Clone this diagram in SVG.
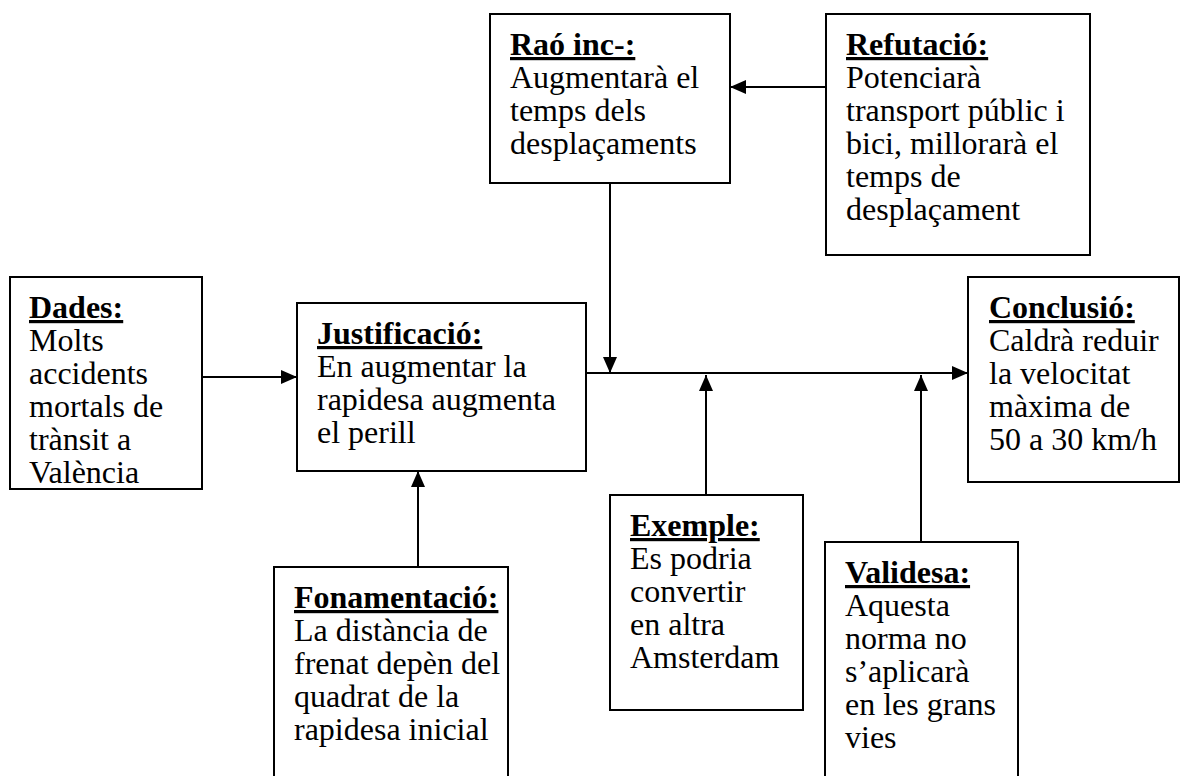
<svg xmlns="http://www.w3.org/2000/svg" width="1182" height="776" viewBox="0 0 1182 776">
  <style>
    .box { fill: #ffffff; stroke: #000000; stroke-width: 2; }
    .txt { font-family: "Liberation Serif", "Times New Roman", serif; font-size: 32px; fill: #000000; }
    .hd { font-weight: bold; text-decoration: underline; text-decoration-thickness: 3px; }
    .wire { fill: none; stroke: #000000; stroke-width: 2; }
  </style>
  <defs>
    <marker id="arrow" markerUnits="userSpaceOnUse" markerWidth="16" markerHeight="14" viewBox="0 0 16 14" refX="16" refY="7" orient="auto">
      <path d="M0,0 L16,7 L0,14 Z" fill="#000000"/>
    </marker>
  </defs>
  <rect width="1182" height="776" fill="#ffffff"/>

  <g id="connectors">
    <line class="wire" x1="202" y1="377" x2="297" y2="377" marker-end="url(#arrow)"/>
    <line class="wire" x1="586" y1="373" x2="968" y2="373" marker-end="url(#arrow)"/>
    <line class="wire" x1="610" y1="183" x2="610" y2="373" marker-end="url(#arrow)"/>
    <line class="wire" x1="826" y1="87" x2="730" y2="87" marker-end="url(#arrow)"/>
    <line class="wire" x1="418" y1="567" x2="418" y2="471" marker-end="url(#arrow)"/>
    <line class="wire" x1="706" y1="495" x2="706" y2="375" marker-end="url(#arrow)"/>
    <line class="wire" x1="921" y1="542" x2="921" y2="375" marker-end="url(#arrow)"/>
  </g>

  <g id="dades">
    <rect class="box" x="10" y="277" width="192" height="212"/>
    <text class="txt" x="29">
      <tspan class="hd" x="29" y="318">Dades:</tspan>
      <tspan x="29" y="351">Molts</tspan>
      <tspan x="29" y="384">accidents</tspan>
      <tspan x="29" y="417">mortals de</tspan>
      <tspan x="29" y="450">trànsit a</tspan>
      <tspan x="29" y="483">València</tspan>
    </text>
  </g>

  <g id="justificacio">
    <rect class="box" x="297" y="303" width="289" height="168"/>
    <text class="txt">
      <tspan class="hd" x="317" y="344">Justificació:</tspan>
      <tspan x="317" y="377">En augmentar la</tspan>
      <tspan x="317" y="410">rapidesa augmenta</tspan>
      <tspan x="317" y="443">el perill</tspan>
    </text>
  </g>

  <g id="rao">
    <rect class="box" x="490" y="14" width="240" height="169"/>
    <text class="txt">
      <tspan class="hd" x="510" y="55">Raó inc-:</tspan>
      <tspan x="510" y="88">Augmentarà el</tspan>
      <tspan x="510" y="121">temps dels</tspan>
      <tspan x="510" y="154">desplaçaments</tspan>
    </text>
  </g>

  <g id="refutacio">
    <rect class="box" x="826" y="14" width="264" height="241"/>
    <text class="txt">
      <tspan class="hd" x="846" y="55">Refutació:</tspan>
      <tspan x="846" y="88">Potenciarà</tspan>
      <tspan x="846" y="121">transport públic i</tspan>
      <tspan x="846" y="154">bici, millorarà el</tspan>
      <tspan x="846" y="187">temps de</tspan>
      <tspan x="846" y="220">desplaçament</tspan>
    </text>
  </g>

  <g id="conclusio">
    <rect class="box" x="968" y="277" width="211" height="205"/>
    <text class="txt">
      <tspan class="hd" x="989" y="318">Conclusió:</tspan>
      <tspan x="989" y="351">Caldrà reduir</tspan>
      <tspan x="989" y="384">la velocitat</tspan>
      <tspan x="989" y="417">màxima de</tspan>
      <tspan x="989" y="450">50 a 30 km/h</tspan>
    </text>
  </g>

  <g id="fonamentacio">
    <rect class="box" x="274" y="567" width="234" height="220"/>
    <text class="txt">
      <tspan class="hd" x="294" y="608">Fonamentació:</tspan>
      <tspan x="294" y="641">La distància de</tspan>
      <tspan x="294" y="674">frenat depèn del</tspan>
      <tspan x="294" y="707">quadrat de la</tspan>
      <tspan x="294" y="740">rapidesa inicial</tspan>
    </text>
  </g>

  <g id="exemple">
    <rect class="box" x="610" y="495" width="193" height="215"/>
    <text class="txt">
      <tspan class="hd" x="630" y="536">Exemple:</tspan>
      <tspan x="630" y="569">Es podria</tspan>
      <tspan x="630" y="602">convertir</tspan>
      <tspan x="630" y="635">en altra</tspan>
      <tspan x="630" y="668">Amsterdam</tspan>
    </text>
  </g>

  <g id="validesa">
    <rect class="box" x="825" y="542" width="193" height="250"/>
    <text class="txt">
      <tspan class="hd" x="845" y="583">Validesa:</tspan>
      <tspan x="845" y="616">Aquesta</tspan>
      <tspan x="845" y="649">norma no</tspan>
      <tspan x="845" y="682">s’aplicarà</tspan>
      <tspan x="845" y="715">en les grans</tspan>
      <tspan x="845" y="748">vies</tspan>
    </text>
  </g>
</svg>
